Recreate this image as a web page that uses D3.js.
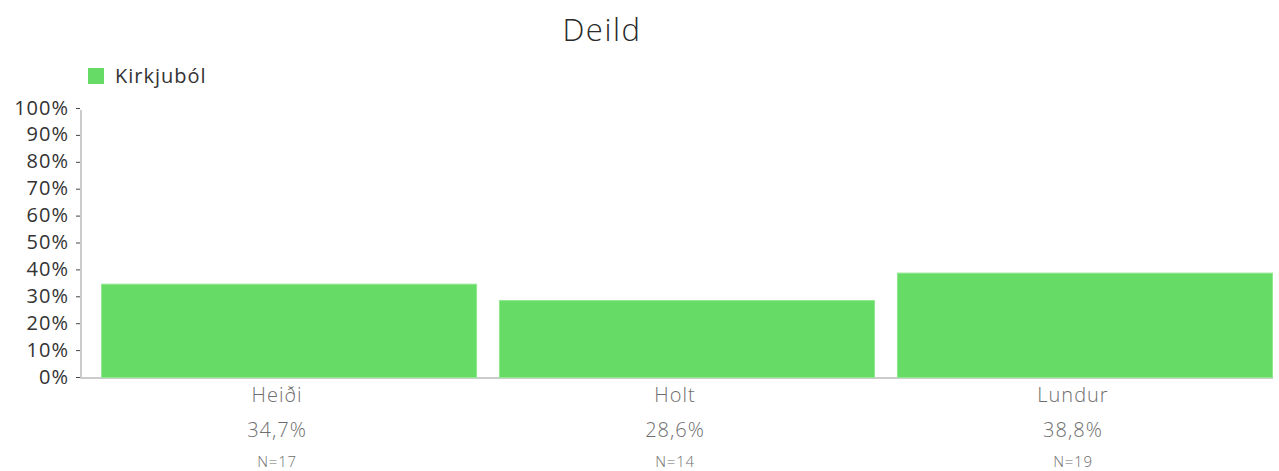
<!DOCTYPE html>
<html>
<head>
<meta charset="utf-8">
<script src="https://cdn.jsdelivr.net/npm/d3@7"></script>
<style>
  body { margin: 0; background: #fff; }
  text { font-family: "Open Sans", Lato, sans-serif; font-weight: 400; letter-spacing: 0.05em; }
</style>
</head>
<body>
<div id="chart"></div>
<script>
// Chart data
const categories = ["Heiði", "Holt", "Lundur"];
const values = [34.7, 28.6, 38.8];
const counts = [17, 14, 19];
const seriesName = "Kirkjuból";
const yTicks = [0, 10, 20, 30, 40, 50, 60, 70, 80, 90, 100];

const config = {
  width: 1279,
  height: 471,
  colors: { bar: "#66dc66", barEdge: "#90e890", axis: "#cccccc", tick: "#444", label: "#6e6e6e" }
};

const svg = d3.select("#chart").append("svg")
  .attr("width", config.width)
  .attr("height", config.height);

// Scales
const x = d3.scaleBand().domain(categories).range([101, 1273]).paddingInner(0.055).paddingOuter(0);
const y = d3.scaleLinear().domain([0, 100]).range([377, 108]);

// Title
svg.append("text")
  .attr("x", 602).attr("y", 41)
  .attr("text-anchor", "middle")
  .style("font-size", "31px")
  .style("font-weight", 300)
  .style("fill", "#2a2a2a")
  .text("Deild");

// Legend
svg.append("rect")
  .attr("x", 88).attr("y", 68).attr("width", 16).attr("height", 16)
  .attr("fill", config.colors.bar);
svg.append("text")
  .attr("x", 115).attr("y", 83)
  .style("font-size", "20px")
  .style("fill", "#333")
  .text(seriesName);

// Y axis
const yAxis = svg.append("g")
  .attr("transform", "translate(81,0)")
  .call(d3.axisLeft(y).tickValues(yTicks).tickFormat(d => d + "%").tickSize(5).tickPadding(7));
yAxis.select(".domain").attr("stroke", config.colors.axis).attr("stroke-width", 2)
  .attr("d", `M0,${y(100) + 2}V${y(0) + 1}`);
yAxis.selectAll(".tick line").attr("stroke", config.colors.tick).attr("x1", -1);
yAxis.selectAll(".tick text")
  .style("font-size", "20px")
  .style("fill", "#333")
  .attr("dy", "0.3em");

// Baseline
svg.append("line")
  .attr("x1", 80).attr("x2", x.range()[1])
  .attr("y1", y(0) + 1).attr("y2", y(0) + 1)
  .attr("stroke", config.colors.axis).attr("stroke-width", 2);

// Bars
svg.selectAll(".bar")
  .data(categories)
  .join("rect")
  .attr("class", "bar")
  .attr("x", d => x(d) + 0.5)
  .attr("width", x.bandwidth() - 1)
  .attr("y", (d, i) => y(values[i]) + 0.5)
  .attr("height", (d, i) => y(0) - y(values[i]))
  .attr("fill", config.colors.bar)
  .attr("stroke", config.colors.barEdge)
  .attr("stroke-width", 1);

// Category labels, values, counts
const labels = svg.selectAll(".cat")
  .data(categories)
  .join("g")
  .attr("class", "cat")
  .attr("transform", d => `translate(${x(d) + x.bandwidth() / 2 - 12},0)`);

labels.append("text")
  .attr("y", 402)
  .attr("text-anchor", "middle")
  .style("font-size", "20px")
  .style("font-weight", 300)
  .style("fill", config.colors.label)
  .text(d => d);

labels.append("text")
  .attr("y", 437)
  .attr("text-anchor", "middle")
  .style("font-size", "20px")
  .style("font-weight", 300)
  .style("fill", config.colors.label)
  .text((d, i) => values[i].toFixed(1).replace(".", ",") + "%");

labels.append("text")
  .attr("y", 467)
  .attr("text-anchor", "middle")
  .style("font-size", "15px")
  .style("font-weight", 300)
  .style("fill", config.colors.label)
  .text((d, i) => "N=" + counts[i]);
</script>
</body>
</html>
